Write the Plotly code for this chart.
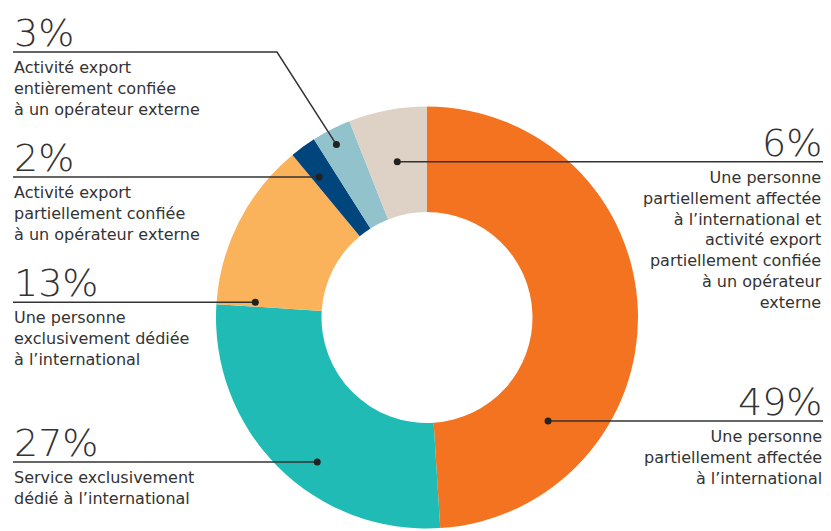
import math
import plotly.graph_objects as go

# ---- data ----
categories = [
    "Une personne<br>partiellement affectée<br>à l’international",
    "Service exclusivement<br>dédié à l’international",
    "Une personne<br>exclusivement dédiée<br>à l’international",
    "Activité export<br>partiellement confiée<br>à un opérateur externe",
    "Activité export<br>entièrement confiée<br>à un opérateur externe",
    "Une personne<br>partiellement affectée<br>à l’international et<br>activité export<br>partiellement confiée<br>à un opérateur<br>externe",
]
values = [49, 27, 13, 2, 3, 6]
pct_labels = ["49%", "27%", "13%", "2%", "3%", "6%"]
colors = ["#F37321", "#1FBBB4", "#FBB35B", "#00457C", "#92C3CC", "#DED1C5"]

# ---- layout / style ----
W, H = 831, 531
CX, CY, R = 427, 317.5, 211
HOLE = 0.5
# dot placement inside each slice: (fraction along the slice, fraction of outer radius)
dot_place = [(0.74, 0.755), (0.42, 0.86), (0.032, 0.817), (0.29, 0.84), (0.44, 0.925), (0.5, 0.752)]
# label side, text edge x, optional elbow (x, y) for the leader line
label_side = ["right", "left", "left", "left", "left", "right"]
elbows = [None, None, None, None, (277, 52), None]
LEFT_X, RIGHT_X = 13, 823
TXT = "#333333"
FONT = "DejaVu Sans"

fig = go.Figure()
fig.add_trace(go.Pie(
    values=values, labels=[c.replace("<br>", " ") for c in categories],
    marker=dict(colors=colors, line=dict(width=0)),
    hole=HOLE, sort=False, direction="clockwise", rotation=0,
    textinfo="none", hoverinfo="label+percent", showlegend=False,
    domain=dict(x=[(CX - R) / W, (CX + R) / W], y=[(H - CY - R) / H, (H - CY + R) / H]),
))

shapes, annotations = [], []
total = sum(values)
start = 0.0
for i, v in enumerate(values):
    span = v / total * 360
    f, rf = dot_place[i]
    th = math.radians(start + f * span)
    dx = CX + rf * R * math.sin(th)
    dy = CY - rf * R * math.cos(th)
    start += span
    side = label_side[i]
    edge = LEFT_X if side == "left" else RIGHT_X
    if elbows[i]:
        ex, ey = elbows[i]
        line_y = ey
        path = f"M {edge},{ey} L {ex},{ey} L {dx:.2f},{dy:.2f}"
    else:
        line_y = dy
        path = f"M {edge},{dy:.2f} L {dx:.2f},{dy:.2f}"
    shapes.append(dict(type="path", path=path, xref="x", yref="y", layer="above",
                       line=dict(color=TXT, width=1.5)))
    shapes.append(dict(type="circle", xref="x", yref="y", layer="above",
                       x0=dx - 3.5, x1=dx + 3.5, y0=dy - 3.5, y1=dy + 3.5,
                       fillcolor="#222222", line=dict(width=0)))
    anchor = "left" if side == "left" else "right"
    annotations.append(dict(x=edge, y=line_y + 4, xref="x", yref="y", text=pct_labels[i],
                            showarrow=False, xanchor=anchor, yanchor="bottom",
                            font=dict(family=FONT, size=38, color=TXT, weight=200),
                            borderpad=0))
    annotations.append(dict(x=edge, y=line_y + 5, xref="x", yref="y", text=categories[i],
                            showarrow=False, xanchor=anchor, yanchor="top", align=anchor,
                            font=dict(family=FONT, size=16, color=TXT),
                            borderpad=0))

fig.update_layout(
    width=W, height=H, margin=dict(l=0, r=0, t=0, b=0),
    paper_bgcolor="white", plot_bgcolor="rgba(0,0,0,0)",
    xaxis=dict(range=[0, W], visible=False, fixedrange=True, domain=[0, 1]),
    yaxis=dict(range=[H, 0], visible=False, fixedrange=True, domain=[0, 1]),
    shapes=shapes, annotations=annotations, showlegend=False,
)
fig.write_html("out.html")
